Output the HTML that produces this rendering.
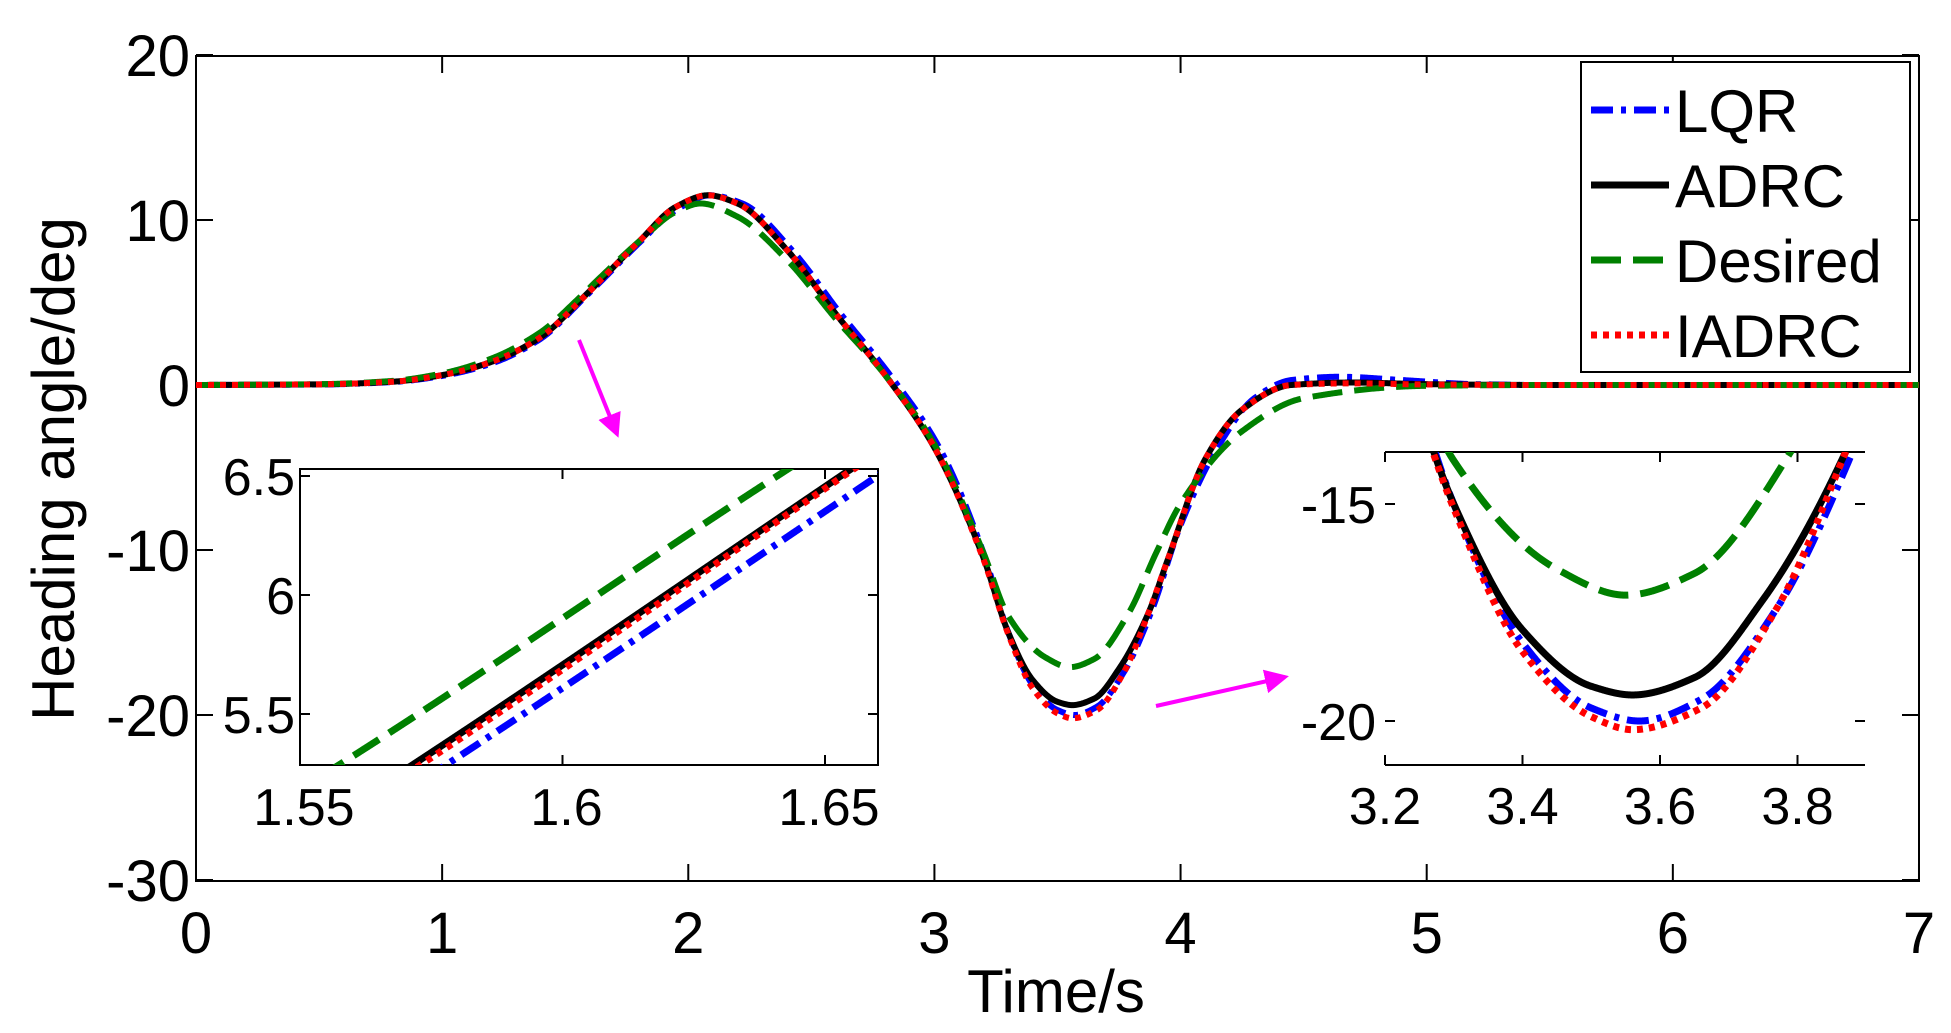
<!DOCTYPE html>
<html><head><meta charset="utf-8"><style>
html,body{margin:0;padding:0;background:#fff}
svg{display:block}
text{font-family:"Liberation Sans",sans-serif;fill:#000}
</style></head><body>
<svg id="s" width="1951" height="1033" viewBox="0 0 1951 1033" xmlns="http://www.w3.org/2000/svg">
<defs>
<clipPath id="cm"><rect x="196" y="56" width="1723" height="825"/></clipPath>
<clipPath id="c1"><rect x="300" y="469" width="578" height="296"/></clipPath>
<clipPath id="c2"><rect x="1385" y="452" width="480" height="313"/></clipPath>
<marker id="ah" markerWidth="6" markerHeight="6" refX="5" refY="3" orient="auto" markerUnits="strokeWidth"><path d="M0,0 L6,3 L0,6 z" fill="#ff00ff"/></marker>
</defs>
<rect x="196" y="56" width="1723" height="825" fill="none" stroke="#000" stroke-width="2"/>
<g id="mainticks"></g>
<g id="mainlines" clip-path="url(#cm)"></g>
<g id="labels" font-size="58"></g>
<text x="1056" y="1012" font-size="60" text-anchor="middle">Time/s</text>
<text transform="translate(74,469) rotate(-90)" font-size="60" text-anchor="middle">Heading angle/deg</text>
<rect x="1581" y="62" width="329" height="310" fill="#fff" stroke="#000" stroke-width="2"/>
<g id="legend" font-size="60"></g>
<rect x="300" y="469" width="578" height="296" fill="#fff" stroke="#000" stroke-width="2"/>
<g id="in1" clip-path="url(#c1)"></g>
<g id="in1t"></g>
<rect x="1385" y="452" width="480" height="313" fill="#fff"/>
<line x1="1385" y1="452" x2="1865" y2="452" stroke="#000" stroke-width="2"/>
<line x1="1385" y1="765" x2="1865" y2="765" stroke="#000" stroke-width="2"/>
<g id="in2" clip-path="url(#c2)"></g>
<g id="in2t"></g>
<line x1="579" y1="340" x2="617" y2="434" stroke="#ff00ff" stroke-width="4" marker-end="url(#ah)"/>
<line x1="1156" y1="706" x2="1285" y2="677" stroke="#ff00ff" stroke-width="4" marker-end="url(#ah)"/>
</svg>
<script>
var NS="http://www.w3.org/2000/svg";
function el(p,tag,a,txt){var e=document.createElementNS(NS,tag);for(var k in a)e.setAttribute(k,a[k]);if(txt!==undefined)e.textContent=txt;document.getElementById(p).appendChild(e);return e;}
function mono(P){
 var n=P.length,x=P.map(function(p){return p[0]}),y=P.map(function(p){return p[1]}),d=[],m=[];
 for(var i=0;i<n-1;i++)d.push((y[i+1]-y[i])/(x[i+1]-x[i]));
 m[0]=d[0];m[n-1]=d[n-2];
 for(var i=1;i<n-1;i++){ if(d[i-1]*d[i]<=0)m[i]=0; else {var w1=2*(x[i+1]-x[i])+(x[i]-x[i-1]),w2=(x[i+1]-x[i])+2*(x[i]-x[i-1]);m[i]=(w1+w2)/(w1/d[i-1]+w2/d[i]);}}
 return function(t){
  if(t<=x[0])return y[0]; if(t>=x[n-1])return y[n-1];
  var i=0;while(t>x[i+1])i++;
  var h=x[i+1]-x[i],s=(t-x[i])/h,s2=s*s,s3=s2*s;
  return (2*s3-3*s2+1)*y[i]+(s3-2*s2+s)*h*m[i]+(-2*s3+3*s2)*y[i+1]+(s3-s2)*h*m[i+1];
 };
}
var F={
green:mono([[0,0],[0.5,0.05],[0.8,0.25],[1.0,0.7],[1.2,1.6],[1.4,3.2],[1.557,5.28],[1.643,6.53],[1.8,8.7],[1.95,10.5],[2.05,11],[2.2,10.2],[2.4,7.6],[2.6,4.0],[2.8,0.6],[3.0,-3.6],[3.2,-10.2],[3.3,-14.0],[3.45,-16.5],[3.55,-17.1],[3.65,-16.6],[3.79,-13.8],[3.9,-10.2],[4.0,-7.2],[4.25,-2.8],[4.5,-0.8],[5.0,-0.05],[5.5,0],[7,0]]),
black:mono([[0,0],[0.5,0.04],[0.8,0.2],[1.0,0.6],[1.2,1.4],[1.4,2.9],[1.571,5.28],[1.655,6.53],[1.8,8.7],[1.95,10.8],[2.08,11.5],[2.2,11.0],[2.4,8.2],[2.6,4.3],[2.8,0.6],[3.0,-3.8],[3.2,-10.5],[3.3,-15],[3.4,-17.9],[3.5,-19.2],[3.56,-19.4],[3.65,-19.0],[3.75,-17.2],[3.87,-13.8],[3.95,-10.5],[4.1,-4.5],[4.25,-1.5],[4.45,0],[4.7,0.15],[5.0,0.05],[5.5,0],[7,0]]),
blue:mono([[0,0],[0.5,0.03],[0.8,0.18],[1.0,0.55],[1.2,1.3],[1.4,2.8],[1.5774,5.28],[1.66,6.5],[1.8,8.6],[1.95,10.6],[2.09,11.5],[2.22,11.0],[2.42,8.2],[2.62,4.3],[2.82,0.6],[3.02,-3.8],[3.2,-10.2],[3.3,-15],[3.4,-18.2],[3.5,-19.7],[3.57,-20],[3.66,-19.5],[3.77,-17.4],[3.88,-13.8],[4.0,-8.5],[4.15,-3.8],[4.3,-0.8],[4.45,0.3],[4.65,0.5],[4.9,0.3],[5.2,0.05],[5.5,0],[7,0]]),
red:mono([[0,0],[0.5,0.04],[0.8,0.2],[1.0,0.6],[1.2,1.4],[1.4,2.9],[1.5725,5.28],[1.6555,6.53],[1.8,8.7],[1.95,10.8],[2.08,11.5],[2.2,11.0],[2.4,8.2],[2.6,4.3],[2.8,0.6],[3.0,-3.8],[3.2,-10.6],[3.3,-15.1],[3.4,-18.4],[3.5,-19.9],[3.56,-20.2],[3.66,-19.7],[3.77,-17.4],[3.87,-13.8],[3.95,-10.5],[4.1,-4.5],[4.25,-1.5],[4.45,0],[4.7,0.1],[5.0,0.03],[5.5,0],[7,0]])
};
var ST={
blue:{stroke:"#0000ff",da:"22 8 5 8"},
black:{stroke:"#000",da:"none"},
green:{stroke:"#008000",da:"30 12"},
red:{stroke:"#ff0000",da:"6 6"}
};
var order=["blue","black","green","red"];
function draw(g,t0,t1,X,Y,w){
 order.forEach(function(k){
  var d="",n=1500;
  for(var i=0;i<=n;i++){var t=t0+(t1-t0)*i/n;d+=(i?"L":"M")+X(t).toFixed(2)+","+Y(F[k](t)).toFixed(2);}
  el(g,"path",{d:d,fill:"none",stroke:ST[k].stroke,"stroke-width":w,"stroke-dasharray":ST[k].da});
 });
}
var MX=function(t){return 196+t*246.14;},MY=function(v){return 385-v*16.5;};
draw("mainlines",0,7,MX,MY,6);
for(var i=0;i<=7;i++){var x=MX(i);
 el("mainticks","line",{x1:x,y1:881,x2:x,y2:864,stroke:"#000","stroke-width":2});
 el("mainticks","line",{x1:x,y1:56,x2:x,y2:73,stroke:"#000","stroke-width":2});
 el("labels","text",{x:x,y:953,"text-anchor":"middle"},String(i));}
for(var v=-30;v<=20;v+=10){var y=MY(v);
 el("mainticks","line",{x1:196,y1:y,x2:213,y2:y,stroke:"#000","stroke-width":2});
 el("mainticks","line",{x1:1919,y1:y,x2:1902,y2:y,stroke:"#000","stroke-width":2});
 el("labels","text",{x:190,y:y+21,"text-anchor":"end"},String(v));}
var names=["LQR","ADRC","Desired","IADRC"];
order.forEach(function(k,i){var y=110+i*75;
 el("legend","line",{x1:1591,y1:y,x2:1669,y2:y,stroke:ST[k].stroke,"stroke-width":7,"stroke-dasharray":ST[k].da});
 el("legend","text",{x:1675,y:y+22},names[i]);});
var X1=function(t){return 300+(t-1.55)*5250;},Y1=function(v){return 476+(6.5-v)*238;};
draw("in1",1.54,1.67,X1,Y1,7);
[1.55,1.6,1.65].forEach(function(t){var x=X1(t);
 el("in1t","line",{x1:x,y1:765,x2:x,y2:755,stroke:"#000","stroke-width":2});
 el("in1t","line",{x1:x,y1:469,x2:x,y2:479,stroke:"#000","stroke-width":2});
 el("in1t","text",{x:x+4,y:825,"font-size":52,"text-anchor":"middle"},String(t));});
[5.5,6,6.5].forEach(function(v){var y=Y1(v);
 el("in1t","line",{x1:300,y1:y,x2:310,y2:y,stroke:"#000","stroke-width":2});
 el("in1t","line",{x1:878,y1:y,x2:868,y2:y,stroke:"#000","stroke-width":2});
 el("in1t","text",{x:295,y:y+19,"font-size":52,"text-anchor":"end"},String(v));});
var X2=function(t){return 1385+(t-3.2)*687.5;},Y2=function(v){return 504+(-15-v)*43.4;};
draw("in2",3.15,3.95,X2,Y2,7);
[3.2,3.4,3.6,3.8].forEach(function(t){var x=X2(t);
 el("in2t","line",{x1:x,y1:765,x2:x,y2:755,stroke:"#000","stroke-width":2});
 el("in2t","line",{x1:x,y1:452,x2:x,y2:462,stroke:"#000","stroke-width":2});
 el("in2t","text",{x:x,y:824,"font-size":52,"text-anchor":"middle"},String(t));});
[-15,-20].forEach(function(v){var y=Y2(v);
 el("in2t","line",{x1:1385,y1:y,x2:1395,y2:y,stroke:"#000","stroke-width":2});
 el("in2t","line",{x1:1865,y1:y,x2:1855,y2:y,stroke:"#000","stroke-width":2});
 el("in2t","text",{x:1376,y:y+19,"font-size":52,"text-anchor":"end"},String(v));});
</script>
</body></html>
